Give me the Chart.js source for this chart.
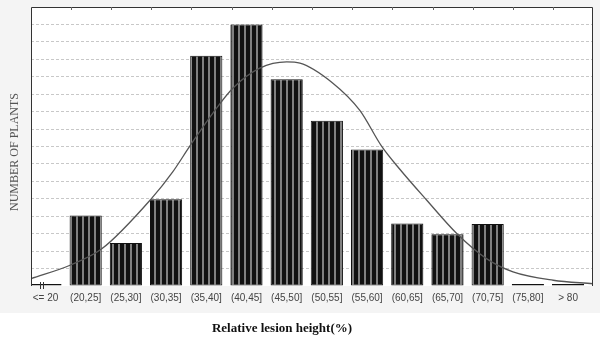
<!DOCTYPE html>
<html>
<head>
<meta charset="utf-8">
<script src="https://cdn.jsdelivr.net/npm/chart.js@4"></script>
<style>
  body { margin: 0; background: #fff; }
  #wrap { width: 600px; height: 342px; }
</style>
</head>
<body>
<div id="wrap"><canvas id="lesionChart" width="600" height="342"></canvas></div>
<script>
const categories = ['<= 20', '(20,25]', '(25,30]', '(30,35]', '(35,40]', '(40,45]', '(45,50]',
  '(50,55]', '(55,60]', '(60,65]', '(65,70]', '(70,75]', '(75,80]', '> 80'];
const plantCounts = [0, 4.05, 2.47, 4.97, 13.2, 15.0, 11.86, 9.48, 7.83, 3.59, 2.97, 3.55, 0, 0];

// fitted normal curve (x in category positions)
const curveX = [-0.36, 0.61, 1.4, 2.62, 3.17, 3.59, 4.16, 4.66, 5.33, 6.0, 6.33, 7.15, 7.82, 8.36, 8.82, 9.48, 10.23, 10.97, 11.63, 12.63, 13.62];
const curveY = [0.42, 1.19, 2.13, 4.97, 6.56, 8.02, 9.9, 11.34, 12.49, 12.85, 12.78, 11.63, 10.07, 8.02, 6.68, 4.93, 3.01, 1.57, 0.81, 0.33, 0.13];

const yMax = 16;

// striped fill for the bars
const tile = document.createElement('canvas');
tile.width = 6; tile.height = 4;
const tctx = tile.getContext('2d');
tctx.fillStyle = '#111';
tctx.fillRect(0, 0, 6, 4);
tctx.fillStyle = '#808080';
tctx.fillRect(4, 0, 2, 4);
const stripes = tctx.createPattern(tile, 'repeat');

const framePlugin = {
  id: 'frame',
  beforeDraw(chart) {
    const { ctx, chartArea: a } = chart;
    ctx.save();
    ctx.fillStyle = '#fff';
    ctx.fillRect(0, 0, chart.width, chart.height);
    ctx.fillStyle = '#f4f4f4';
    ctx.fillRect(0, 0, chart.width, 313);
    ctx.fillStyle = '#fff';
    ctx.fillRect(a.left, a.top, a.right - a.left, a.bottom - a.top);
    ctx.restore();
  },
  afterDraw(chart) {
    const { ctx, chartArea: a } = chart;
    const xs = chart.scales.x;
    ctx.save();
    ctx.strokeStyle = '#333';
    ctx.lineWidth = 1;
    ctx.beginPath();
    ctx.moveTo(a.left + 0.5, a.bottom);
    ctx.lineTo(a.left + 0.5, a.top + 0.5);
    ctx.lineTo(a.right - 0.5, a.top + 0.5);
    ctx.lineTo(a.right - 0.5, a.bottom);
    ctx.stroke();
    // small inward ticks along the top edge
    ctx.strokeStyle = '#666';
    ctx.beginPath();
    for (let i = 1; i < categories.length; i++) {
      const px = Math.round(xs.getPixelForValue(i - 0.37)) + 0.5;
      ctx.moveTo(px, a.top);
      ctx.lineTo(px, a.top + 3);
    }
    ctx.stroke();
    // axis break mark
    ctx.strokeStyle = '#333';
    ctx.beginPath();
    const bx = Math.round(xs.getPixelForValue(-0.14));
    ctx.moveTo(bx + 0.5, a.bottom - 4);
    ctx.lineTo(bx + 0.5, a.bottom + 3);
    ctx.moveTo(bx + 3.5, a.bottom - 4);
    ctx.lineTo(bx + 3.5, a.bottom + 3);
    ctx.stroke();
    // axis titles
    ctx.fillStyle = '#555';
    ctx.font = '12px "Liberation Serif", "Times New Roman", serif';
    ctx.textAlign = 'center';
    ctx.textBaseline = 'middle';
    ctx.translate(15, 152);
    ctx.rotate(-Math.PI / 2);
    ctx.fillText('NUMBER OF PLANTS', 0, 0);
    ctx.setTransform(1, 0, 0, 1, 0, 0);
    ctx.fillStyle = '#111';
    ctx.font = 'bold 13px "Liberation Serif", "Times New Roman", serif';
    ctx.fillText('Relative lesion height(%)', 282, 329);
    ctx.restore();
  }
};

new Chart(document.getElementById('lesionChart'), {
  type: 'bar',
  data: {
    datasets: [{
      type: 'line',
      data: curveX.map((x, i) => ({ x: x, y: curveY[i] })),
      borderColor: '#555',
      borderWidth: 1.3,
      pointRadius: 0,
      cubicInterpolationMode: 'monotone',
      fill: false,
      order: 0
    }, {
      type: 'bar',
      data: categories.map((c, i) => ({ x: i, y: plantCounts[i] })),
      backgroundColor: stripes,
      borderColor: '#111',
      borderWidth: 1,
      borderSkipped: false,
      minBarLength: 2,
      categoryPercentage: 0.8,
      barPercentage: 1.0,
      order: 1
    }]
  },
  options: {
    responsive: false,
    animation: false,
    layout: { padding: { left: 31, right: 7, top: 7, bottom: 32 } },
    plugins: { legend: { display: false }, tooltip: { enabled: false } },
    scales: {
      x: {
        type: 'linear',
        offset: false,
        min: -0.36,
        max: 13.62,
        grid: { display: false, offset: false, drawTicks: false },
        border: { display: false },
        ticks: {
          stepSize: 1,
          includeBounds: false,
          autoSkip: false,
          maxRotation: 0,
          padding: 6,
          color: '#444',
          font: { family: '"Liberation Sans Narrow", "Liberation Sans", Arial, sans-serif', size: 10 },
          callback: (v) => categories[v] !== undefined ? categories[v] : ''
        }
      },
      y: {
        min: 0,
        max: yMax,
        ticks: { display: false, stepSize: 1 },
        border: { display: false, dash: [3, 2] },
        grid: {
          drawTicks: false,
          color: (c) => (c.tick.value === 0 || c.tick.value === yMax) ? 'rgba(0,0,0,0)' : '#c8c8c8',
          lineWidth: 1
        }
      }
    }
  },
  plugins: [framePlugin]
});
</script>
</body>
</html>
